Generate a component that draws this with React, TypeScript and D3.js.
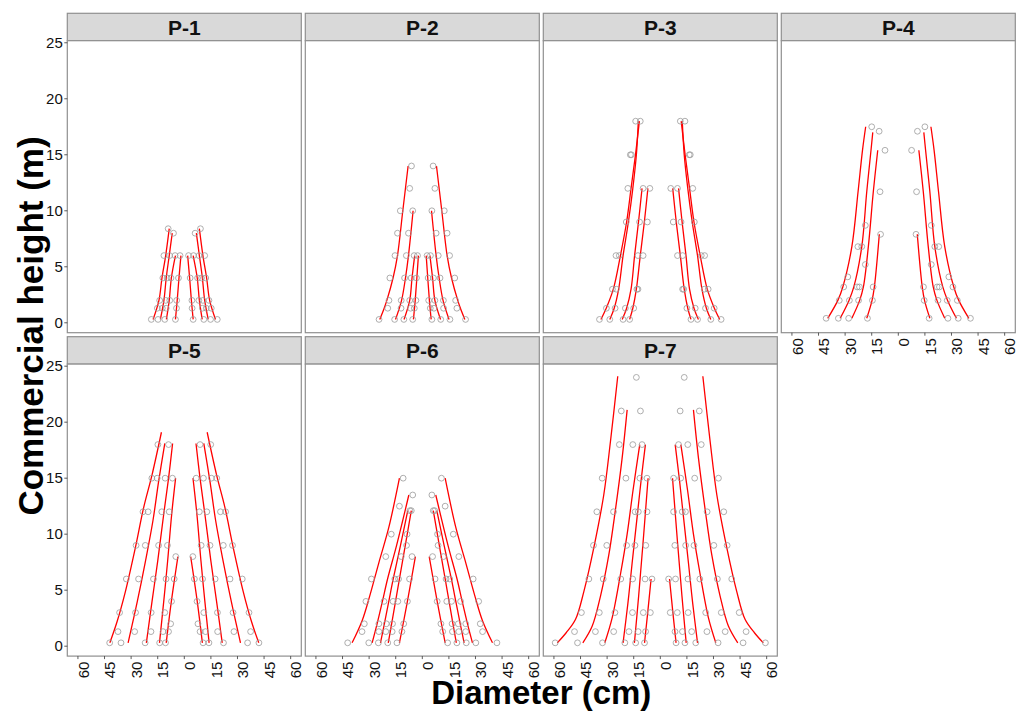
import React from "react";
import * as d3 from "d3";

type HD = [number, number]; // [height (m), diameter (cm)]

const panelNames = ["P-1", "P-2", "P-3", "P-4", "P-5", "P-6", "P-7"];
const xTickValues = [-60, -45, -30, -15, 0, 15, 30, 45, 60];
const yTickValues = [0, 5, 10, 15, 20, 25];

// Observed points (height, diameter) — drawn mirrored on both sides
const p1Points: HD[] = [
  [0.3, 18.6], [0.3, 14.8], [0.3, 11], [0.3, 5],
  [1.3, 15.2], [1.3, 12.4], [1.3, 10.2], [1.3, 4.4],
  [2, 13.9], [2, 10.5], [2, 8.2], [2, 4.3],
  [4, 12.1], [4, 9.7], [4, 7.5], [4, 3.3],
  [6, 11.5], [6, 8.3], [6, 5.2], [6, 2.4],
  [8, 6.1], [8.4, 9.1],
];
const p2Points: HD[] = [
  [0.3, 24.4], [0.3, 15.6], [0.3, 10.4], [0.3, 5.4],
  [1.3, 19.5], [1.3, 12], [1.3, 6.6], [1.3, 4.5],
  [2, 18.8], [2, 11.9], [2, 7.1], [2, 3.6],
  [4, 18.3], [4, 10], [4, 6.3], [4, 3.3],
  [6, 15.4], [6, 9], [6, 4.6], [6, 2.7],
  [8, 14], [8, 7.8], [10, 12.4], [10, 5.4], [12, 7.1], [14, 6.1],
];
const p3Points: HD[] = [
  [0.3, 34.3], [0.3, 28.5], [0.3, 21], [0.3, 17.3],
  [1.3, 30.4], [1.3, 25.5], [1.3, 19.7], [1.3, 15],
  [3, 27], [3, 24.8], [3, 13.2], [3, 12.6],
  [6, 25], [6, 23.1], [6, 12.6], [6, 9.7],
  [9, 19.2], [9, 11.7], [9, 7.3],
  [12, 18.3], [12, 9.7], [12, 5.9],
  [15, 16.3], [15, 16.9], [18, 13.9], [18, 11.3],
];
const p4Points: HD[] = [
  [0.4, 40.7], [0.4, 33.8], [0.4, 28], [0.4, 17.4],
  [2, 33.3], [2, 27.6], [2, 22.4], [2, 14.6],
  [3.2, 30.8], [3.2, 23.2], [3.2, 21.9], [3.2, 14.2],
  [4.1, 28.5], [5.2, 18.6], [6.8, 22.8], [6.8, 20.6],
  [7.9, 10], [8.7, 18.6], [11.7, 10.3], [15.4, 7.5], [17.1, 10.8], [17.5, 15],
];
const p5Points: HD[] = [
  [0.3, 42.1], [0.3, 35.7], [0.3, 22.1], [0.3, 13.9], [0.3, 10.6],
  [1.3, 37.4], [1.3, 28], [1.3, 18.8], [1.3, 12], [1.3, 8.9],
  [2, 7.7],
  [3, 36.5], [3, 27.5], [3, 18.7], [3, 11],
  [4, 7.2],
  [6, 32.7], [6, 25.8], [6, 17.4], [6, 10.3], [6, 5.7],
  [8, 4.8],
  [9, 27.2], [9, 22], [9, 14.5], [9, 9.5],
  [12, 23.3], [12, 20.4], [12, 12.7], [12, 8.5],
  [15, 18.3], [15, 15.3], [15, 10.8], [15, 6.7],
  [18, 14.9], [18, 8.9],
];
const p6Points: HD[] = [
  [0.3, 42.1], [0.3, 30.2], [0.3, 24.8], [0.3, 19.5], [0.3, 14.3],
  [1.3, 34], [1.3, 24.5], [1.3, 20.6], [1.3, 17], [1.3, 11.5],
  [2, 32.7], [2, 24.5], [2, 20.3], [2, 16.8], [2, 10.5],
  [4, 31.8], [4, 21.6], [4, 16.5], [4, 13.8], [4, 8.4],
  [6, 28.7], [6, 15.5], [6, 13.4], [6, 7.2],
  [8, 20.6], [8, 11.9], [8, 5.8],
  [9, 8.9], [10, 17.5], [10, 8.6],
  [12.1, 7], [12.1, 6.2], [12.5, 12.9], [13.5, 5.4], [15, 10.8],
];
const p7Points: HD[] = [
  [0.3, 59.3], [0.3, 46.7], [0.3, 32.6], [0.3, 20], [0.3, 13.9], [0.3, 8.9],
  [1.3, 48.4], [1.3, 36.6], [1.3, 26.3], [1.3, 17.7], [1.3, 12.5], [1.3, 8.3],
  [3, 44.5], [3, 34.4], [3, 25.6], [3, 15.7], [3, 9.6], [3, 5.6],
  [6, 40.3], [6, 32.2], [6, 22.3], [6, 15.6], [6, 8.6], [6, 4.7],
  [9, 37.7], [9, 30.2], [9, 19], [9, 14.3], [9, 8.2],
  [12, 35.8], [12, 26.4], [12, 14.2], [12, 12.4], [12, 7.5],
  [15, 32.8], [15, 19.4], [15, 11.5], [15, 7.5],
  [18, 23.1], [18, 15.5], [18, 10.3],
  [21, 22], [21, 11.2], [24, 13.5],
];

// Fitted taper curves (height, diameter) — drawn mirrored on both sides
const p1Curves: HD[][] = [
  [[0.3, 17.6], [2, 14.3], [4, 12.6], [6, 10.5], [8.4, 8.5]],
  [[0.3, 13.5], [2, 11.5], [4, 10.2], [6, 8.5], [8, 6.8]],
  [[0.3, 10.1], [2, 8.5], [4, 7.3], [6, 5]],
  [[0.3, 5], [2, 4], [4, 3], [6, 1.9]],
];
const p2Curves: HD[][] = [
  [[0.3, 24], [1.3, 21.5], [2, 20], [4, 16.5], [6, 14], [10, 11], [14, 8]],
  [[0.3, 15.1], [2, 11.7], [4, 9.5], [6, 7.8], [10, 5.2]],
  [[0.3, 10.3], [2, 7.1], [4, 5.8], [6, 4.3]],
  [[0.3, 5], [2, 4], [6, 2.2]],
];
const p3Curves: HD[][] = [
  [[0.3, 33.5], [1.3, 30.5], [3, 26.5], [6, 22.5], [9, 19], [12, 16.5], [15, 14], [18, 11.8]],
  [[0.3, 28.5], [1.3, 26], [3, 23.5], [6, 21], [9, 18], [12, 15.5], [15, 13.5], [18, 12.4]],
  [[0.3, 21.5], [1.3, 19], [3, 16.5], [6, 14.5], [9, 12.3], [12, 10.3]],
  [[0.3, 17.3], [1.3, 15.5], [3, 13.5], [6, 11.3], [9, 9], [12, 7]],
];
const p4Curves: HD[][] = [
  [[0.4, 39.8], [2, 34.1], [3.2, 31.3], [6.8, 26.2], [11.7, 22.7], [15.4, 20.2], [17.5, 18.4]],
  [[0.4, 32.8], [2, 27.8], [3.2, 25.1], [6.8, 20.6], [11.7, 17.8], [15.4, 15.4], [17, 14.4]],
  [[0.4, 26.2], [2, 21.8], [3.2, 19.7], [6.8, 16.9], [11.7, 14.1], [15.4, 11.6]],
  [[0.4, 17.8], [2, 14.8], [3.2, 13.5], [7.9, 10.7]],
];
const p5Curves: HD[][] = [
  [[0.3, 42], [2.2, 37.9], [4.9, 33.2], [8.8, 27.6], [12.4, 22.9], [15.3, 18.2], [19.1, 12.9]],
  [[0.3, 31.7], [4, 26.5], [7.6, 21.9], [11.2, 17.7], [14.7, 14.5], [18.1, 11]],
  [[0.3, 21.4], [4, 18.2], [7.6, 15], [11.8, 11.6], [15.1, 8.8], [18.1, 6.6]],
  [[0.3, 14], [4, 11.6], [7.6, 9.4], [11.8, 7.1], [15, 4.9]],
  [[0.3, 10.2], [4, 7.3], [8, 3.6]],
];
const p6Curves: HD[][] = [
  [[0.3, 39.6], [2.3, 33.9], [4.4, 29.8], [7.4, 24.6], [10.6, 18.9], [15, 12.9]],
  [[0.3, 28.3], [2, 25.5], [4, 22.5], [6, 19.6], [9, 14.5], [13.5, 7.6]],
  [[0.3, 23.6], [2, 21.4], [4, 18.9], [6, 16.4], [9, 12.3], [12.1, 8.2]],
  [[0.3, 19.2], [2, 17.3], [4, 15.1], [6, 12.9], [9, 9.6], [12.1, 6.2]],
  [[0.3, 12.9], [4, 8.4], [8, 3.9]],
];
const p7Curves: HD[][] = [
  [[0.3, 58.1], [1.2, 53.1], [2.4, 47.8], [4.9, 43.1], [8.8, 37.5], [13.5, 31.9], [18.3, 28.1], [24.1, 24]],
  [[0.3, 43.7], [1.8, 38.4], [4.5, 33.7], [8.1, 29.1], [12.2, 25.3], [16.7, 21.6], [21.1, 18.7]],
  [[0.3, 31.3], [2.5, 27.2], [6.4, 22.5], [10, 18.7], [13.9, 15.4], [18, 11.6]],
  [[0.3, 21], [3.8, 18.3], [7.4, 15.9], [11.5, 13.1], [14.7, 10.9], [18, 8.4]],
  [[0.3, 14.6], [4.5, 12.2], [9.3, 9.7], [15, 6.9]],
  [[0.3, 8.9], [3, 7.1], [6, 5.2]],
];

const allPoints = [p1Points, p2Points, p3Points, p4Points, p5Points, p6Points, p7Points];
const allCurves = [p1Curves, p2Curves, p3Curves, p4Curves, p5Curves, p6Curves, p7Curves];

const FONT = "'Liberation Sans', Arial, Helvetica, sans-serif";

export default function App() {
  const W = 1019;
  const H = 711;
  const panelW = 234;
  const panelH = 292;
  const stripH = 27.4;
  const colStep = 238;
  const rowStep = 323.4;
  const left0 = 67.3;
  const top0 = 13.3;

  const x = d3.scaleLinear().domain([-66, 66]).range([0, panelW]);
  const y = d3.scaleLinear().domain([-0.885, 25.185]).range([panelH, 0]);

  const lineFor = (sign: number) =>
    d3
      .line<HD>()
      .x((p) => x(sign * p[1]))
      .y((p) => y(p[0]))
      .curve(d3.curveCatmullRom.alpha(0.5));
  const leftLine = lineFor(-1);
  const rightLine = lineFor(1);

  const borderColor = "#8f8f8f";

  return (
    <svg
      width={W}
      height={H}
      style={{ position: "absolute", left: 0, top: 0, background: "#fff" }}
      fontFamily={FONT}
    >
      <rect x={0} y={0} width={W} height={H} fill="#fff" />
      {panelNames.map((name, i) => {
        const col = i % 4;
        const row = Math.floor(i / 4);
        const px = left0 + col * colStep;
        const stripTop = top0 + row * rowStep;
        const py = stripTop + stripH;
        const showX = row === 1 || col === 3;
        const showY = col === 0;
        return (
          <g key={name}>
            <rect
              x={px}
              y={stripTop}
              width={panelW}
              height={stripH}
              fill="#d9d9d9"
              stroke={borderColor}
              strokeWidth={1.2}
            />
            <text
              x={px + panelW / 2}
              y={stripTop + 21.6}
              textAnchor="middle"
              fontSize={21}
              fontWeight="bold"
              fill="#111"
            >
              {name}
            </text>
            <g transform={`translate(${px},${py})`}>
              <rect x={0} y={0} width={panelW} height={panelH} fill="#fff" />
              {allCurves[i].map((c, j) => (
                <g key={j}>
                  <path d={leftLine(c) || ""} fill="none" stroke="#ff0000" strokeWidth={1.3} />
                  <path d={rightLine(c) || ""} fill="none" stroke="#ff0000" strokeWidth={1.3} />
                </g>
              ))}
              {allPoints[i].map((p, j) => (
                <g key={j}>
                  <circle cx={x(-p[1])} cy={y(p[0])} r={2.9} fill="none" stroke="#9a9a9a" strokeWidth={0.8} />
                  <circle cx={x(p[1])} cy={y(p[0])} r={2.9} fill="none" stroke="#9a9a9a" strokeWidth={0.8} />
                </g>
              ))}
              <rect
                x={0}
                y={0}
                width={panelW}
                height={panelH}
                fill="none"
                stroke={borderColor}
                strokeWidth={1.2}
              />
              {showY &&
                yTickValues.map((v) => (
                  <g key={"y" + v} transform={`translate(0,${y(v)})`}>
                    <line x1={-3} x2={0} stroke="#333" strokeWidth={0.8} />
                    <text x={-4.5} dy="0.35em" textAnchor="end" fontSize={15} fill="#111">
                      {v}
                    </text>
                  </g>
                ))}
              {showX &&
                xTickValues.map((v) => (
                  <g key={"x" + v} transform={`translate(${x(v)},${panelH})`}>
                    <line y1={0} y2={3} stroke="#333" strokeWidth={0.8} />
                    <text
                      transform={`translate(5.5,5.5) rotate(-90)`}
                      dy="0.35em"
                      textAnchor="end"
                      fontSize={15}
                      fill="#111"
                    >
                      {Math.abs(v)}
                    </text>
                  </g>
                ))}
            </g>
          </g>
        );
      })}
      <text
        x={left0 + (3 * colStep + panelW) / 2}
        y={704}
        textAnchor="middle"
        fontSize={33}
        fontWeight="bold"
        fill="#000"
      >
        Diameter (cm)
      </text>
      <text
        transform={`translate(43,326) rotate(-90)`}
        textAnchor="middle"
        fontSize={35}
        fontWeight="bold"
        fill="#000"
      >
        Commercial height (m)
      </text>
    </svg>
  );
}
